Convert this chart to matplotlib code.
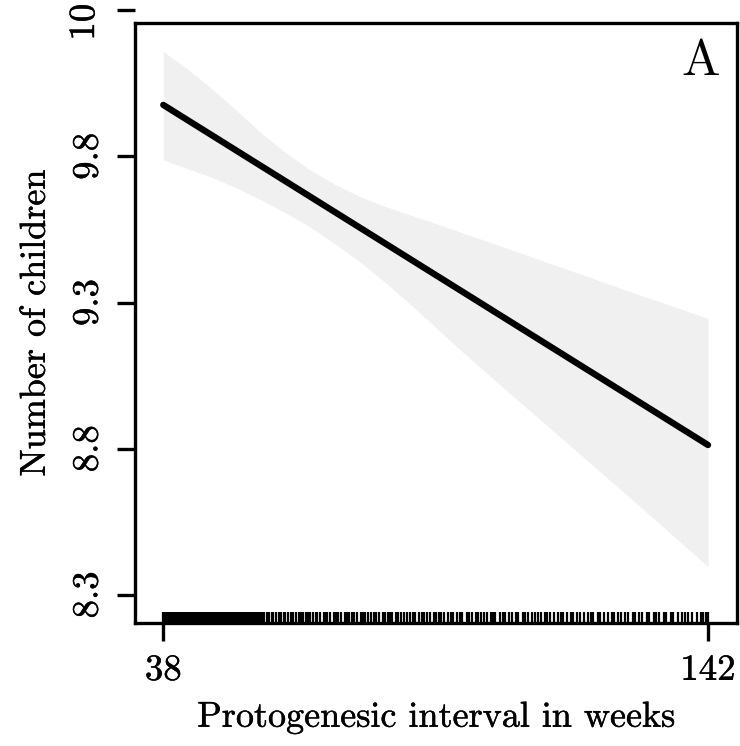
import matplotlib
matplotlib.use("Agg")
import matplotlib.pyplot as plt
import matplotlib.transforms as mtransforms
import matplotlib.patheffects as pe

# ---- data ----
band_weeks = [38.0, 43.1, 46.9, 51.7, 56.5, 61.2, 66.0, 70.8, 75.6, 80.3,
              85.1, 89.9, 94.6, 103.6, 116.3, 129.0, 142.0]
ci_upper = [10.159, 10.092, 10.037, 9.962, 9.883, 9.815, 9.754, 9.704, 9.662,
            9.629, 9.600, 9.571, 9.542, 9.486, 9.406, 9.326, 9.246]
ci_lower = [9.788, 9.755, 9.731, 9.694, 9.653, 9.608, 9.559, 9.500, 9.439,
            9.370, 9.295, 9.217, 9.140, 8.998, 8.801, 8.603, 8.397]

fit_weeks = [38.0, 142.0]
fit_children = [9.976, 8.813]

rug_weeks = [
    38.0, 38.3, 38.6, 38.9, 39.2, 39.5, 39.8, 40.1, 40.4, 40.7, 41.0, 41.3,
    41.6, 41.9, 42.2, 42.5, 42.8, 43.1, 43.4, 43.7, 44.0, 44.3, 44.6, 44.9,
    45.2, 45.5, 45.8, 46.1, 46.4, 46.7, 47.0, 47.3, 47.6, 47.9, 48.2, 48.5,
    48.8, 49.1, 49.4, 49.7, 50.0, 50.3, 50.6, 50.9, 51.2, 51.5, 51.8, 52.1,
    52.4, 52.7, 53.0, 53.3, 53.6, 53.9, 54.2, 54.5, 54.8, 55.1, 55.4, 55.7, 56.0,
    56.4, 56.9, 57.3, 57.8, 58.1, 58.7, 59.0, 59.6, 60.1, 60.4, 61.0, 61.3,
    61.9, 62.4, 62.7, 63.3, 63.9, 64.2, 64.6, 65.3, 65.7, 66.0, 66.6, 67.1,
    67.4, 68.0, 68.6, 69.0, 69.3, 69.9, 70.6, 71.0, 71.4, 71.9, 72.6, 73.0,
    73.4, 74.1, 74.4, 75.0, 75.7, 76.1, 76.6, 77.0, 77.6, 78.3, 78.7, 79.1,
    79.9, 80.3, 80.9, 81.3, 81.7, 82.4, 82.9, 83.4, 84.0, 84.6, 85.1, 85.6,
    86.0, 86.9, 87.4, 87.7, 88.4, 88.9, 89.6, 90.0, 90.7, 91.1, 91.6, 92.3,
    92.9, 93.4, 94.0, 94.7, 95.1, 95.9, 96.4, 96.9, 97.7, 98.1, 98.6, 99.3,
    99.9, 100.6, 101.0, 101.4, 102.3, 102.9, 103.3, 104.0, 104.6, 105.3, 105.7,
    106.6, 107.0, 107.6, 108.4, 108.9, 109.6, 110.1, 110.9, 111.3, 111.9, 112.6,
    113.3, 113.9, 114.3, 115.1, 115.9, 116.3, 117.0, 117.6, 118.4, 119.0, 119.6,
    120.1, 121.0, 121.4, 122.1, 122.9, 123.6, 124.0, 124.9, 125.4, 126.1, 126.7,
    127.6, 128.1, 128.9, 129.4, 130.3, 130.7, 131.6, 132.1, 132.7, 133.6, 134.0,
    134.9, 135.4, 136.3, 137.0, 137.6, 138.1, 139.0, 139.9, 140.6, 141.1, 141.6,
    142.0,
]

x_ticks = [38, 142]
x_tick_labels = ["38", "142"]
y_ticks = [8.3, 8.8, 9.3, 9.8]
y_tick_labels = ["8.3", "8.8", "9.3", "9.8"]
y_extra_tick = 10.3
y_extra_label = "10"
x_label = "Protogenesic interval in weeks"
y_label = "Number of children"
panel_letter = "A"

# ---- styling ----
plt.rcParams["font.family"] = "cmr10"
plt.rcParams["mathtext.fontset"] = "cm"
plt.rcParams["axes.unicode_minus"] = False
FS_TICK = 26.5
FS_LAB = 26.0
thick = [pe.withStroke(linewidth=0.3, foreground="black")]

fig = plt.figure(figsize=(7.40, 7.46), dpi=100)
ax = fig.add_axes([135 / 740, 1 - 623 / 746, 602 / 740, 600 / 746])

ax.fill_between(band_weeks, ci_lower, ci_upper, color="#F0F0F0", linewidth=0, zorder=1)
ax.plot(fit_weeks, fit_children, color="black", linewidth=4.6, solid_capstyle="round", zorder=3)

rug_trans = mtransforms.blended_transform_factory(ax.transData, ax.transAxes)
ax.vlines(rug_weeks, 0, 11 / 600, transform=rug_trans, color="black", linewidth=1.6, zorder=2)

ax.set_xlim(32.6, 147.54)
ax.set_ylim(8.2042, 10.2562)

ax.set_xticks(x_ticks)
ax.set_xticklabels(x_tick_labels, fontsize=FS_TICK)
ax.set_yticks(y_ticks)
ax.set_yticklabels(y_tick_labels, fontsize=FS_TICK, rotation=90, va="center")

for s in ax.spines.values():
    s.set_linewidth(2.4)

ax.tick_params(axis="both", length=13, width=2.4, color="black")
ax.tick_params(axis="x", pad=9)
ax.tick_params(axis="y", pad=9)

# tick for 10 lies above the plotting box (as in the reference)
ytrans = mtransforms.blended_transform_factory(ax.transAxes, ax.transData)
tick_frac = 18 / 602
ax.plot([0, -tick_frac], [y_extra_tick, y_extra_tick], transform=ytrans,
        color="black", linewidth=2.4, clip_on=False, solid_capstyle="butt")
label_trans = ytrans + mtransforms.ScaledTranslation(0, -12 / 100, fig.dpi_scale_trans)
t10 = ax.text(-(18 + 16) / 602, y_extra_tick, y_extra_label, transform=label_trans,
              rotation=90, ha="right", va="center", fontsize=FS_TICK, clip_on=False)

ax.set_xlabel(x_label, fontsize=FS_LAB, labelpad=11)
ax.set_ylabel(y_label, fontsize=FS_LAB, labelpad=14)

tA = ax.text((720 - 135) / 602, (623 - 75) / 600, panel_letter, transform=ax.transAxes,
             ha="right", va="baseline", fontsize=37)

for t in (ax.get_xticklabels() + ax.get_yticklabels()
          + [t10, ax.xaxis.label, ax.yaxis.label]):
    t.set_path_effects(thick)

fig.savefig("out.png", dpi=100)
